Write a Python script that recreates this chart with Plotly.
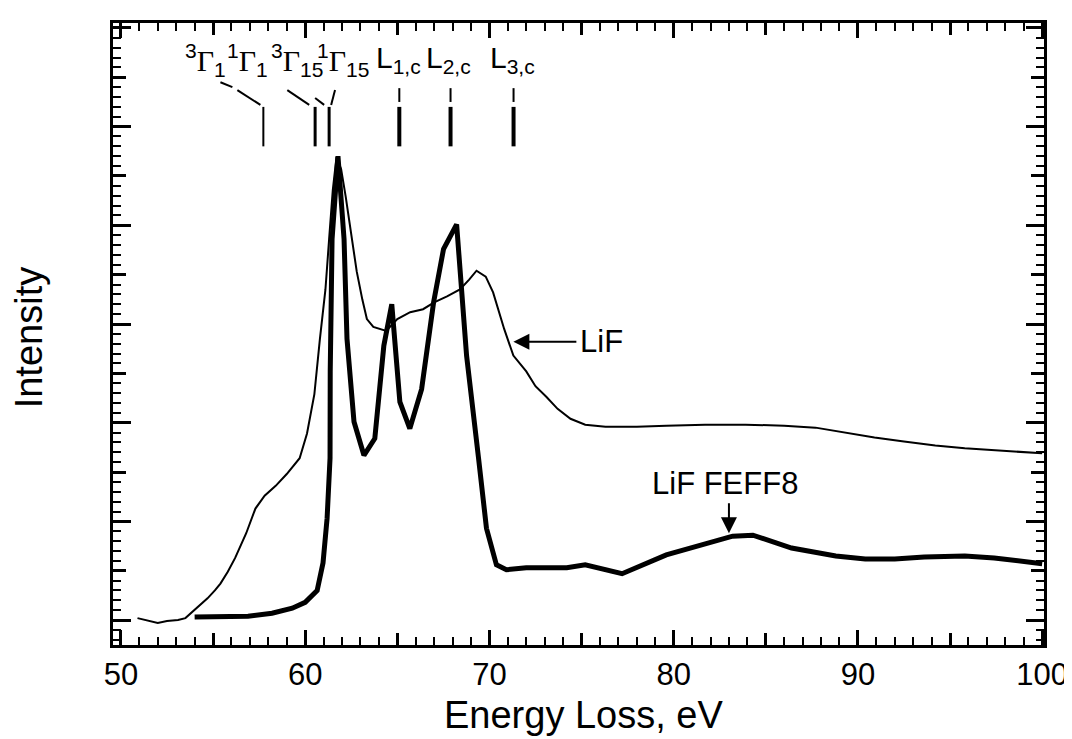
import plotly.graph_objects as go

# ---- data ----
lif_energy = [50.9, 51.5, 52.0, 52.5, 53.1, 53.5, 54.0, 54.3, 54.7, 55.1, 55.4, 55.8, 56.2,
              56.8, 57.3, 57.8, 58.4, 59.0, 59.7, 60.1, 60.5, 60.8, 61.1, 61.3, 61.5, 61.7,
              61.95, 62.2, 62.5, 62.8, 63.1, 63.35, 63.7, 64.4, 65.0, 65.7, 66.4, 67.0, 67.7,
              68.4, 68.9, 69.3, 69.8, 70.2, 70.8, 71.3, 72.0, 72.5, 73.1, 73.7, 74.4, 75.2,
              76.3, 78.0, 79.6, 81.7, 83.9, 86.0, 87.7, 89.3, 90.9, 92.5, 94.2, 95.8, 97.4,
              98.8, 100.0]
lif_intensity = [0.02, -0.01, -0.03, -0.01, 0.0, 0.02, 0.10, 0.15, 0.22, 0.30, 0.37, 0.49, 0.63,
                 0.88, 1.13, 1.26, 1.36, 1.48, 1.64, 1.89, 2.29, 2.85, 3.35, 3.86, 4.36, 4.69,
                 4.57, 4.29, 3.91, 3.53, 3.25, 3.05, 2.97, 2.93, 3.05, 3.12, 3.15, 3.22, 3.28,
                 3.35, 3.45, 3.54, 3.48, 3.32, 2.95, 2.68, 2.52, 2.37, 2.26, 2.14, 2.04, 1.98,
                 1.96, 1.96, 1.97, 1.98, 1.98, 1.97, 1.95, 1.90, 1.85, 1.81, 1.77, 1.74, 1.72,
                 1.70, 1.69]

feff_energy = [54.0, 56.9, 58.2, 59.3, 60.0, 60.65, 60.97, 61.19, 61.35, 61.36, 61.46, 61.78,
               62.11, 62.27, 62.65, 63.19, 63.78, 64.27, 64.70, 65.14, 65.68, 66.32, 66.97,
               67.51, 68.22, 68.76, 69.41, 69.84, 70.38, 70.92, 72.0, 74.2, 75.2, 77.2, 79.6,
               82.1, 83.2, 84.3, 86.4, 88.8, 90.4, 92.0, 93.6, 95.8, 97.4, 100.0]
feff_intensity = [0.03, 0.04, 0.07, 0.12, 0.18, 0.30, 0.58, 1.03, 1.64, 2.52, 3.86, 4.70,
                  3.86, 2.85, 2.01, 1.67, 1.84, 2.78, 3.20, 2.21, 1.94, 2.34, 3.22,
                  3.76, 4.01, 2.68, 1.64, 0.93, 0.56, 0.51, 0.53, 0.53, 0.56, 0.47, 0.66,
                  0.80, 0.85, 0.86, 0.73, 0.65, 0.62, 0.62, 0.64, 0.65, 0.63, 0.57]

x_ticks = [50, 60, 70, 80, 90, 100]
marker_labels = ["<sup>3</sup>Γ<sub>1</sub>", "<sup>1</sup>Γ<sub>1</sub>", "<sup>3</sup>Γ<sub>15</sub>",
                 "<sup>1</sup>Γ<sub>15</sub>", "L<sub>1,c</sub>", "L<sub>2,c</sub>", "L<sub>3,c</sub>"]
marker_label_x = [54.6, 56.85, 59.55, 62.05, 65.05, 67.8, 71.25]
marker_energy = [57.73, 60.54, 61.30, 65.11, 67.89, 71.31]
marker_width = [2, 3, 3, 4, 4, 4]

X_RANGE = [49.57, 100.1]
Y_RANGE = [-0.2525, 6.05]

fig = go.Figure()
fig.add_trace(go.Scatter(x=lif_energy, y=lif_intensity, mode="lines",
                         line=dict(color="black", width=2), name="LiF"))
fig.add_trace(go.Scatter(x=feff_energy, y=feff_intensity, mode="lines",
                         line=dict(color="black", width=5), name="LiF FEFF8"))
# empty trace to carry the overlay axes (medium ticks)
fig.add_trace(go.Scatter(x=[], y=[], xaxis="x2", yaxis="y2", showlegend=False))

axis_common = dict(showline=True, linecolor="black", linewidth=3, mirror="allticks",
                   ticks="inside", tickcolor="black", tickwidth=2.5, showgrid=False,
                   zeroline=False)

fig.update_layout(
    width=1072, height=739,
    margin=dict(l=105, r=32, t=13, b=102),
    paper_bgcolor="white", plot_bgcolor="white",
    showlegend=False,
    font=dict(family="Liberation Sans, Arial, sans-serif", color="black", size=30),
    xaxis=dict(range=X_RANGE, tickvals=x_ticks, ticklen=15,
               minor=dict(ticks="inside", ticklen=8, dtick=1, tick0=50,
                          tickcolor="black", tickwidth=2),
               tickfont=dict(size=31), ticklabelstandoff=0,
               **axis_common),
    yaxis=dict(range=Y_RANGE, tickvals=[0, 1, 2, 3, 4, 5, 6], ticklen=18,
               showticklabels=False,
               minor=dict(ticks="inside", ticklen=8, dtick=0.1, tick0=0,
                          tickcolor="black", tickwidth=2),
               **axis_common),
    xaxis2=dict(range=X_RANGE, overlaying="x", anchor="y", side="bottom",
                tickvals=[55, 65, 75, 85, 95], ticks="inside", ticklen=12,
                tickcolor="black", tickwidth=2.5, mirror="allticks", showline=False,
                showticklabels=False, showgrid=False, zeroline=False),
    yaxis2=dict(range=Y_RANGE, overlaying="y", anchor="x", side="left",
                tickvals=[0.5, 1.5, 2.5, 3.5, 4.5, 5.5], ticks="inside", ticklen=13,
                tickcolor="black", tickwidth=2.5, mirror="allticks", showline=False,
                showticklabels=False, showgrid=False, zeroline=False),
)

# axis titles
fig.add_annotation(x=0.505, y=-0.113, xref="paper", yref="paper", text="Energy Loss, eV",
                   showarrow=False, xanchor="center", yanchor="middle",
                   font=dict(size=38, color="black"))
fig.add_annotation(x=-0.09, y=0.495, xref="paper", yref="paper", text="Intensity",
                   showarrow=False, xanchor="center", yanchor="middle", textangle=-90,
                   font=dict(size=38, color="black"))

# marker labels
for lab, xv in zip(marker_labels, marker_label_x):
    is_gamma = "Γ" in lab
    fam = "Liberation Serif, Times New Roman, serif" if is_gamma else "Liberation Sans, Arial, sans-serif"
    if is_gamma:
        lab = lab.replace("<sup>", "<sup><span style='font-family:Liberation Sans'>").replace(
            "</sup>", "</span></sup>").replace("<sub>", "<sub><span style='font-family:Liberation Sans'>").replace(
            "</sub>", "</span></sub>")
    fig.add_annotation(x=xv, y=5.68, xref="x", yref="y", text=lab, showarrow=False,
                       font=dict(family=fam, size=30, color="black"),
                       xanchor="center", yanchor="middle")

# marker ticks
for e, w in zip(marker_energy, marker_width):
    fig.add_shape(type="line", x0=e, x1=e, y0=4.80, y1=5.20, xref="x", yref="y",
                  line=dict(color="black", width=w))
for e in marker_energy[3:]:
    fig.add_shape(type="line", x0=e, x1=e, y0=5.25, y1=5.39, xref="x", yref="y",
                  line=dict(color="black", width=2))
# leader lines for Gamma labels
leaders = [(55.4, 5.45, 56.05, 5.40), (56.32, 5.37, 57.57, 5.22),
           (59.03, 5.37, 60.22, 5.22), (60.54, 5.29, 61.03, 5.22), (61.62, 5.37, 61.41, 5.22)]
for x0, y0, x1, y1 in leaders:
    fig.add_shape(type="line", x0=x0, y0=y0, x1=x1, y1=y1, xref="x", yref="y",
                  line=dict(color="black", width=2))

# curve labels with arrows
fig.add_annotation(x=71.3, y=2.82, ax=74.8, ay=2.82, xref="x", yref="y", axref="x", ayref="y",
                   text="", showarrow=True, arrowhead=2, arrowsize=1.6, arrowwidth=2, arrowcolor="black")
fig.add_annotation(x=74.8, y=2.82, text="LiF", showarrow=False, xanchor="left", yanchor="middle",
                   font=dict(size=31, color="black"))
fig.add_annotation(x=83.0, y=0.88, ax=83.0, ay=1.20, xref="x", yref="y", axref="x", ayref="y",
                   text="", showarrow=True, arrowhead=2, arrowsize=1.6, arrowwidth=2, arrowcolor="black")
fig.add_annotation(x=82.8, y=1.38, text="LiF FEFF8", showarrow=False, xanchor="center",
                   yanchor="middle", font=dict(size=31, color="black"))

fig.write_html("out.html")
